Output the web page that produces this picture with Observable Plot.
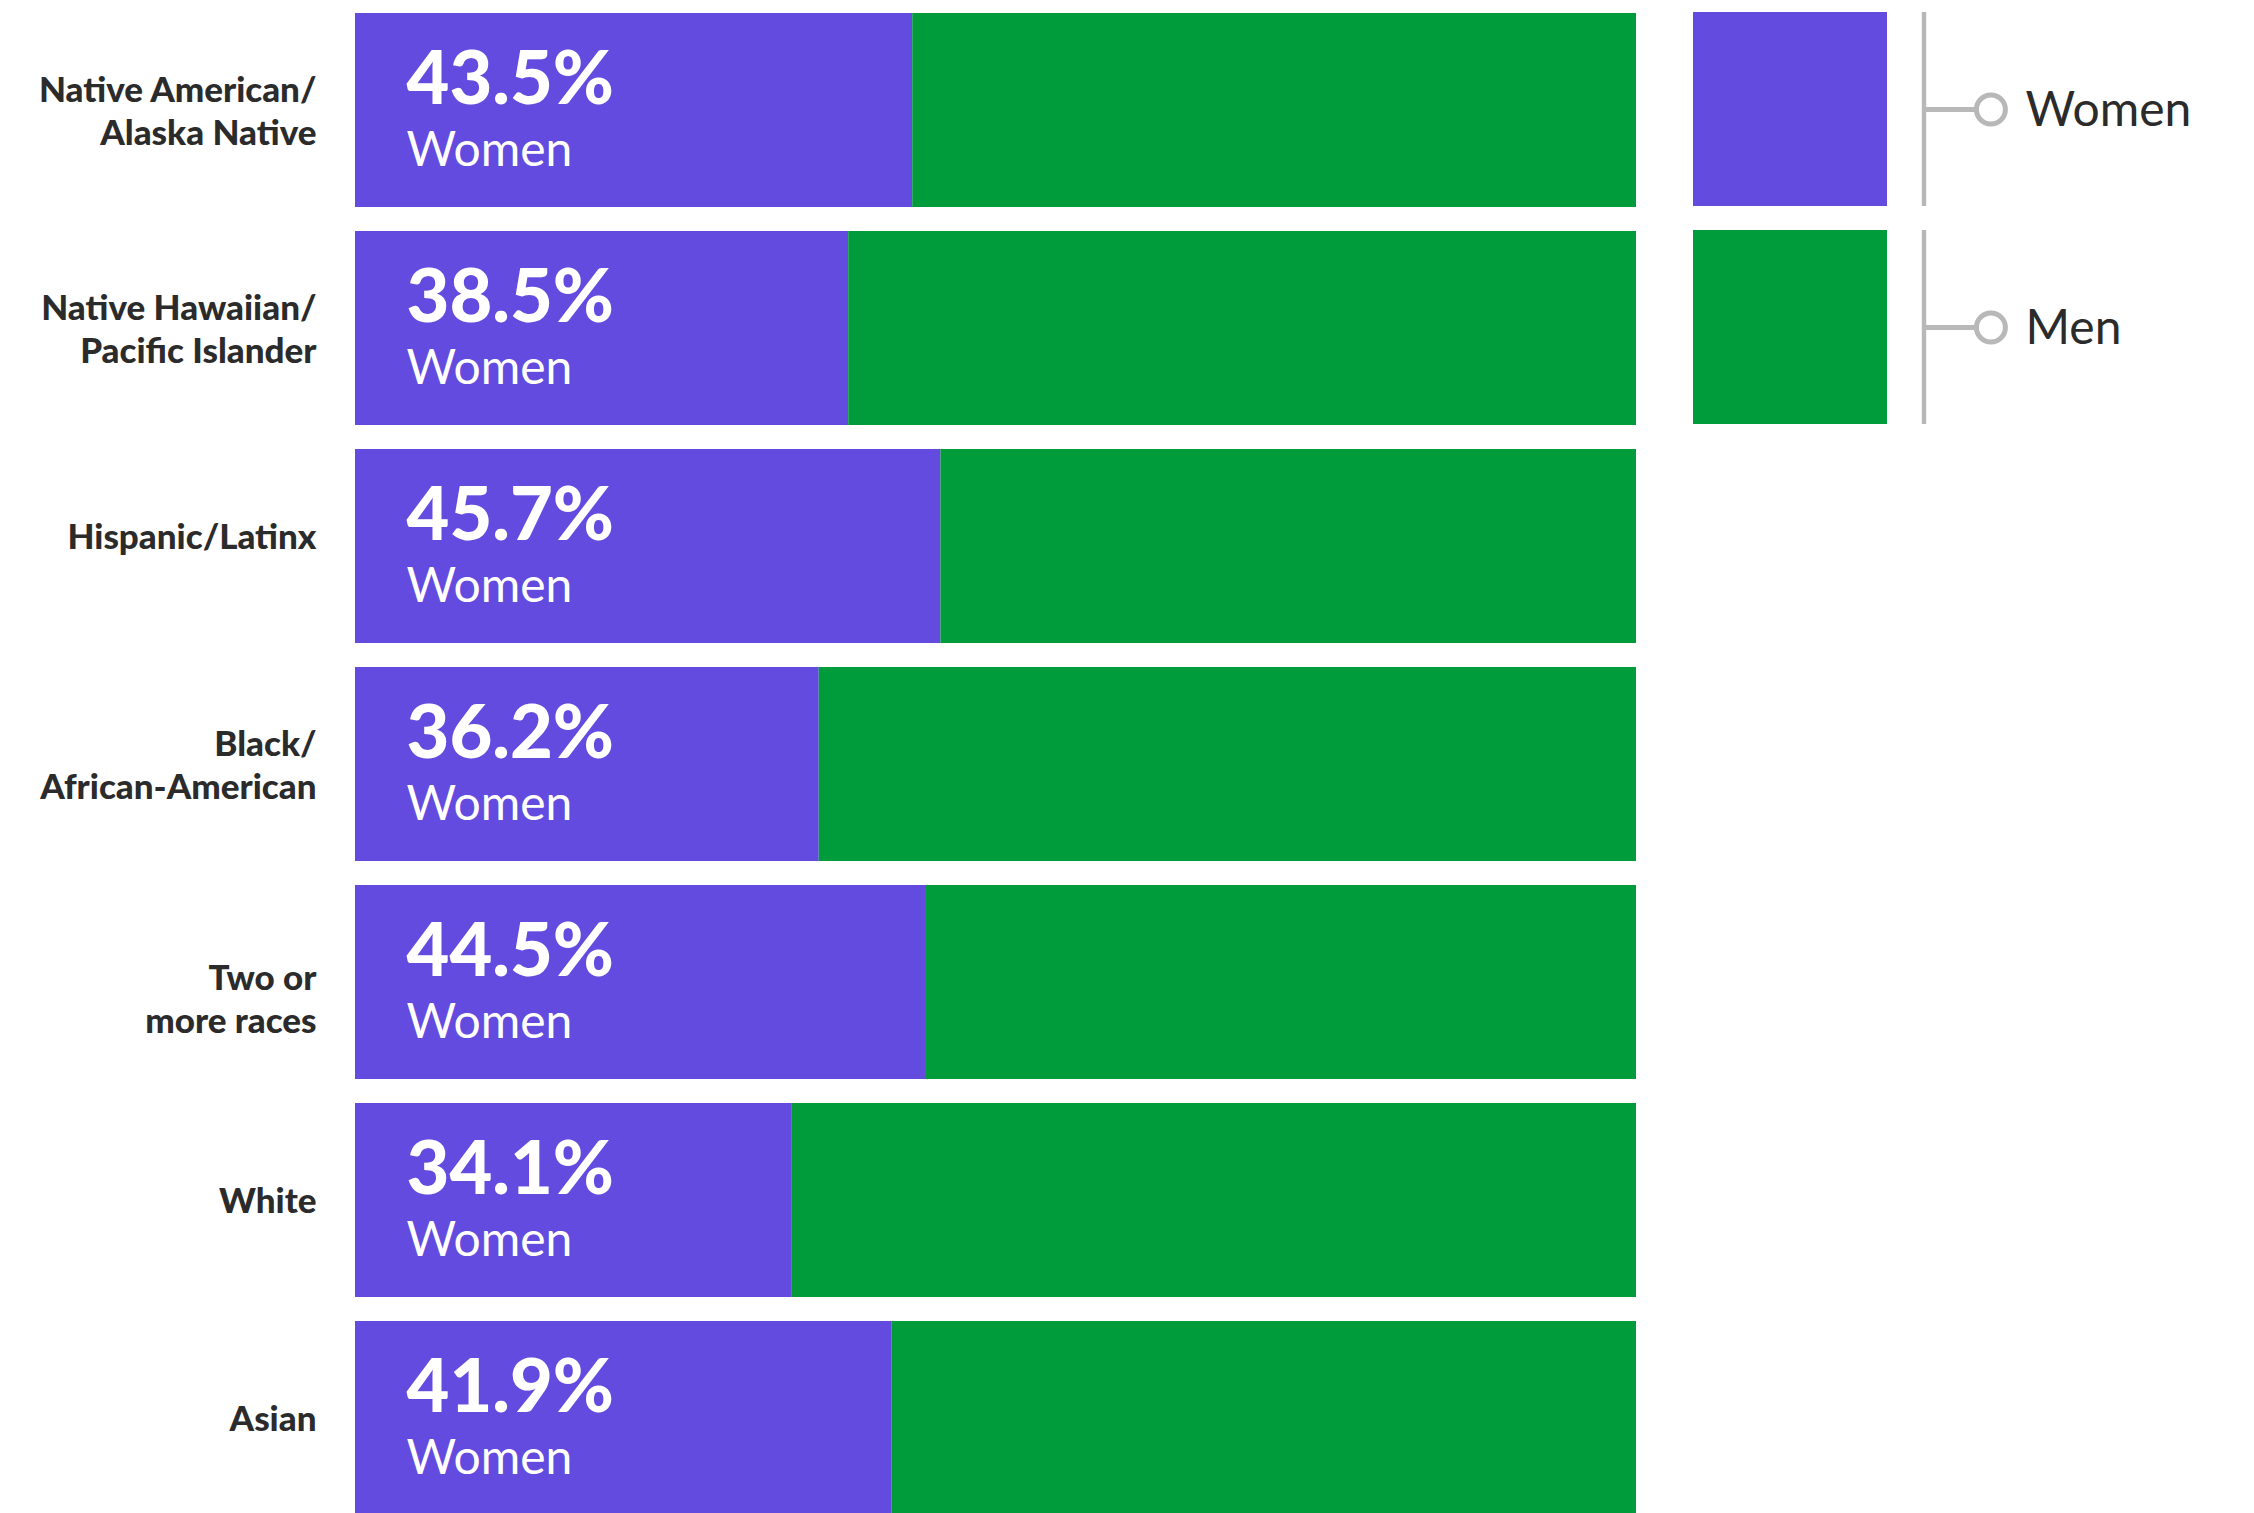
<!DOCTYPE html>
<html><head><meta charset="utf-8">
<script src="https://cdn.jsdelivr.net/npm/d3@7"></script>
<script src="https://cdn.jsdelivr.net/npm/@observablehq/plot@0.6"></script>
<style>
html,body{margin:0;padding:0;background:#fff;}
#wrap{display:flex;align-items:flex-start;width:2254px;height:1513px;overflow:hidden;}
#wrap svg{display:block;max-width:none;}
</style></head><body><div id="wrap"></div>
<script>
const categories = ["Native American/\nAlaska Native","Native Hawaiian/\nPacific Islander","Hispanic/Latinx","Black/\nAfrican-American","Two or\nmore races","White","Asian"];
const women = [43.5, 38.5, 45.7, 36.2, 44.5, 34.1, 41.9];
const men = [56.5, 61.5, 54.3, 63.8, 55.5, 65.9, 58.1];
const womenLabels = ["43.5%","38.5%","45.7%","36.2%","44.5%","34.1%","41.9%"];
const genders = ["Women","Men"];
const colors = ["#634bdf","#009b3b"];

const rows = [];
categories.forEach((c, i) => {
  rows.push({race: c, gender: "Women", value: women[i]});
  rows.push({race: c, gender: "Men", value: men[i]});
});
const labelRows = categories.map((c, i) => ({race: c, pct: womenLabels[i], word: "Women"}));

const font = "Lato, 'Open Sans', sans-serif";

// small vertical nudges of the row labels, as laid out in the original
const labelNudge = new Map([["Hispanic/Latinx", -10], ["Two or\nmore races", 16]]);
const labelGroups = d3.groups(labelRows, d => labelNudge.get(d.race) ?? 0);
const labelMarks = labelGroups.map(([nudge, data]) =>
  Plot.text(data, {y: "race", text: "race", frameAnchor: "left", textAnchor: "end", dx: -39, dy: -1 + nudge,
    fontSize: 35, fontWeight: 900, lineHeight: 1.23, fill: "#2b2b2b"}));

const main = Plot.plot({
  width: 1660, height: 1513,
  marginLeft: 355, marginRight: 24, marginTop: 11, marginBottom: 0,
  style: {fontFamily: font, background: "#fff"},
  x: {domain: [0, 100], axis: null},
  y: {type: "band", domain: categories, range: [11, 1517.7], paddingInner: 0.111, paddingOuter: 0, axis: null},
  color: {domain: genders, range: colors},
  marks: [
    Plot.barX(rows, {y: "race", x: "value", fill: "gender", order: genders}),
    ...labelMarks,
    Plot.text(labelRows, {y: "race", text: "pct", frameAnchor: "left", textAnchor: "start", dx: 51, dy: -6.7,
      lineAnchor: "bottom", fontSize: 74, fontWeight: 900, fill: "#fff"}),
    Plot.text(labelRows, {y: "race", text: "word", frameAnchor: "left", textAnchor: "start", dx: 51, dy: 55.8,
      lineAnchor: "bottom", fontSize: 48, fontWeight: 400, fill: "#fff"})
  ]
});

const legend = Plot.plot({
  width: 594, height: 440,
  marginLeft: 33, marginRight: 0, marginTop: 11, marginBottom: 0,
  style: {fontFamily: font, background: "#fff"},
  y: {type: "band", domain: genders, range: [11, 424.2], paddingInner: 0.111, paddingOuter: 0, axis: null},
  color: {domain: genders, range: colors},
  marks: [
    Plot.cell(genders, {y: d => d, fill: d => d, insetRight: 367}),
    Plot.cell(genders, {y: d => d, fill: "#b8b8b8", insetLeft: 228.8, insetRight: 327.8}),
    Plot.ruleY(genders, {y: d => d, stroke: "#b8b8b8", strokeWidth: 5, insetLeft: 231, insetRight: 278}),
    Plot.dot(genders, {y: d => d, frameAnchor: "left", dx: 297.4, r: 14.5, stroke: "#b8b8b8", strokeWidth: 5, fill: "#fff"}),
    Plot.text(genders, {y: d => d, text: d => d, frameAnchor: "left", textAnchor: "start", dx: 332, dy: 1.5,
      fontSize: 48, fontWeight: 400, fill: "#2b2b2b"})
  ]
});

const wrap = document.getElementById("wrap");
wrap.appendChild(main);
wrap.appendChild(legend);
</script></body></html>
